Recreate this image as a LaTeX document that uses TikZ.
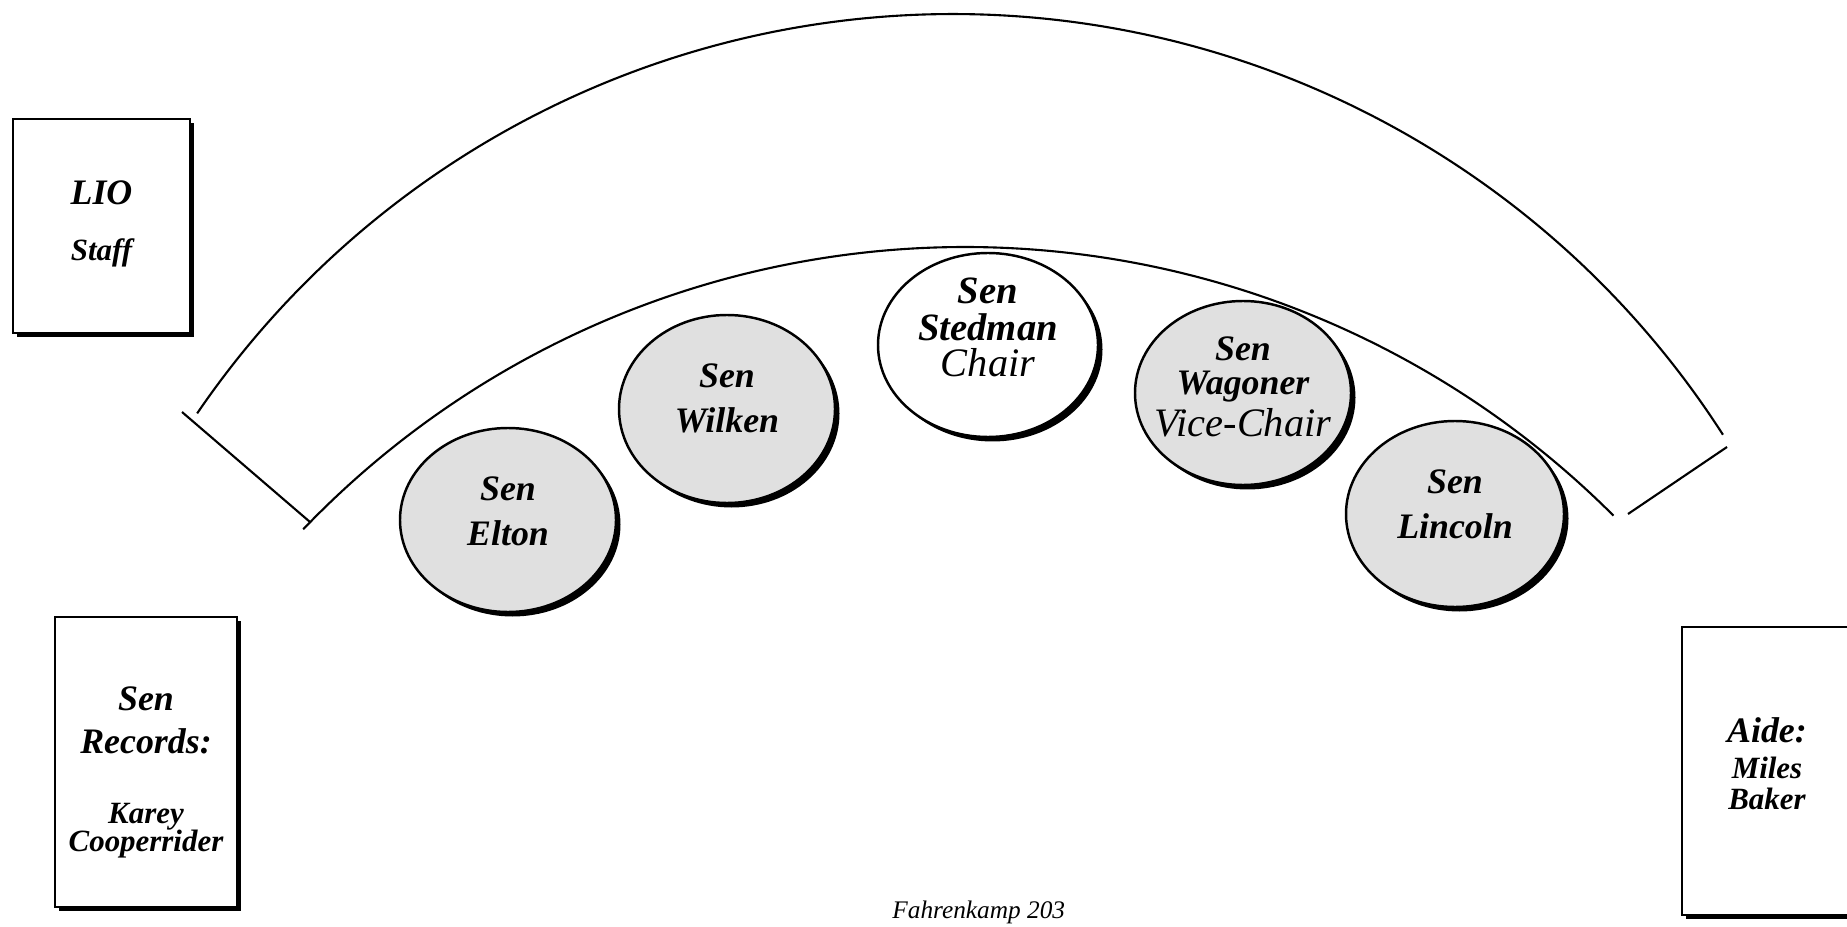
\documentclass[tikz,border=0pt]{standalone}
\usepackage{fontspec}
\setmainfont{Liberation Serif}
\usetikzlibrary{shapes.geometric,shadows}

\newcommand{\namefont}{\fontsize{10.2}{12.8}\selectfont\bfseries\itshape\lineskiplimit=-10pt}
\newcommand{\deskfont}{\fontsize{10.2}{12}\selectfont\bfseries\itshape\lineskiplimit=-10pt}
\newcommand{\chairfont}{\fontsize{11}{10.5}\selectfont\bfseries\itshape\lineskiplimit=-10pt}
\newcommand{\vicefont}{\fontsize{10.2}{9.6}\selectfont\bfseries\itshape\lineskiplimit=-10pt}
\newcommand{\smallname}{\fontsize{8.8}{10}\selectfont\bfseries\itshape}
\newcommand{\rolename}{\fontsize{11.5}{12}\selectfont\mdseries\itshape}

\begin{document}
\begin{tikzpicture}[rail/.style={line width=0.6pt},
 seat/.style={ellipse,draw,line width=0.7pt,fill=black!12,inner sep=0pt,
  minimum width=2.16cm,minimum height=1.84cm,
  drop shadow={shadow xshift=0.45mm,shadow yshift=-0.45mm,fill=black,opacity=1}},
 desk/.style={rectangle,draw,line width=0.6pt,fill=white,
  drop shadow={shadow xshift=0.4mm,shadow yshift=-0.4mm,fill=black,opacity=1}},
 nametag/.style={align=center,inner sep=0pt,font=\namefont},
 desktag/.style={align=center,inner sep=0pt,font=\deskfont}]
 \useasboundingbox (0,0) rectangle (18.47,9.26);
 \clip (0,0) rectangle (18.47,9.26);
 \draw[rail] ([shift={(145.7:9.15)}]9.53,-0.03) arc[start angle=145.7,end angle=32.7,radius=9.15];
 \draw[rail] ([shift={(136.2:9.17)}]9.65,-2.38) arc[start angle=136.2,end angle=45,radius=9.17];
 \draw[rail] (1.82,5.14) -- (3.10,4.04);
 \draw[rail] (16.28,4.12) -- (17.27,4.79);
 \node[seat] (elton) at (5.08,4.06) {};
 \node[seat,minimum height=1.88cm] (wilken) at (7.27,5.17) {};
 \node[seat,fill=white,minimum width=2.2cm] (stedman) at (9.88,5.81) {};
 \node[seat] (wagoner) at (12.43,5.33) {};
 \node[seat,minimum width=2.18cm,minimum height=1.86cm] (lincoln) at (14.55,4.12) {};
 \node[nametag] (eltonname) at ([yshift=2.5pt]elton.center) {Sen\\Elton};
 \node[nametag] (wilkenname) at ([yshift=3pt]wilken.center) {Sen\\Wilken};
 \node[nametag,font=\chairfont] (stedmanname) at ([yshift=5pt]stedman.center) {Sen\\Stedman\\{\rolename Chair}};
 \node[nametag,font=\vicefont] (wagonername) at ([yshift=1.7pt]wagoner.center) {Sen\\Wagoner\\[2.6pt]{\rolename Vice-Chair}};
 \node[nametag] (lincolnname) at ([yshift=2.7pt]lincoln.center) {Sen\\Lincoln};
 \node[desk,minimum width=1.77cm,minimum height=2.14cm] (lio) at (1.015,7.00) {};
 \node[desk,minimum width=1.82cm,minimum height=2.90cm] (records) at (1.46,1.64) {};
 \node[desk,minimum width=1.70cm,minimum height=2.88cm] (aide) at (17.67,1.55) {};
 \node[desktag] (liotext) at ([yshift=0.5pt]lio.center) {LIO\\[4pt]{\smallname Staff}};
 \node[desktag] (recordstext) at ([yshift=-3pt]records.center) {Sen\\Records:\\[8pt]{\smallname Karey}\\[-4pt]{\smallname Cooperrider}};
 \node[desktag] (aidetext) at ([yshift=2pt]aide.center) {Aide:\\[-2pt]{\smallname Miles}\\[-3pt]{\smallname Baker}};
 \node[anchor=base west,font=\fontsize{7.2}{8}\selectfont\itshape] (room) at (8.80,0.08) {Fahrenkamp 203};
\end{tikzpicture}
\end{document}
